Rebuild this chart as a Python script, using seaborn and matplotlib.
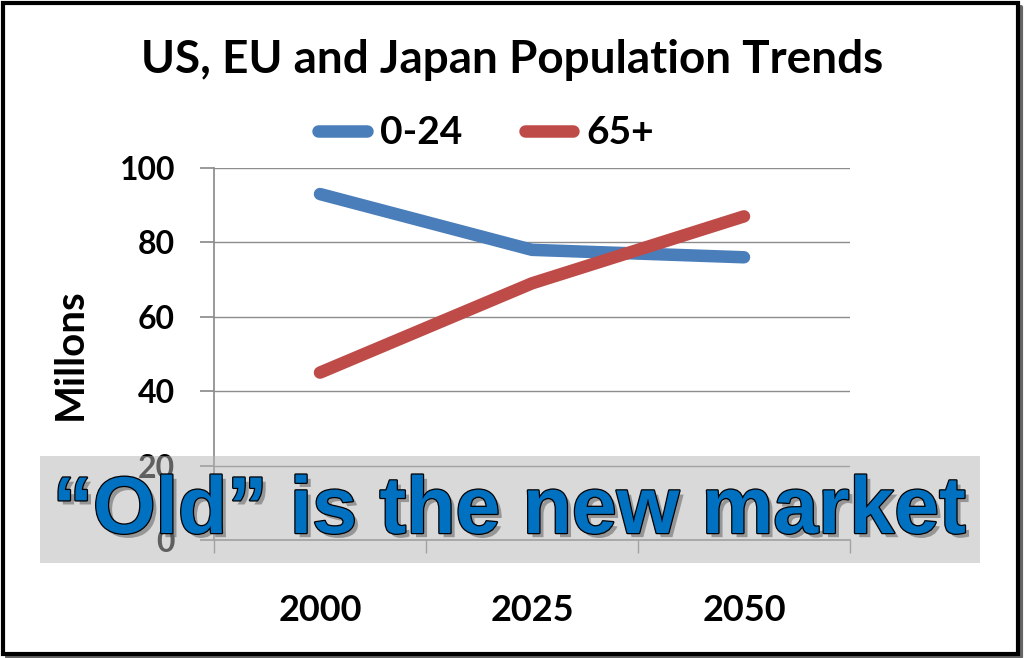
import matplotlib

matplotlib.use("Agg")
import matplotlib.pyplot as plt
import matplotlib.patheffects as pe
from matplotlib.lines import Line2D
from matplotlib.patches import Rectangle
from matplotlib.ticker import FixedLocator
import pandas as pd
import seaborn as sns

# data
years = ["2000", "2025", "2050"]
young = [93, 78, 76]      # 0-24
old = [45, 69, 87]        # 65+
series_names = ["0-24", "65+"]
y_ticks = [0, 20, 40, 60, 80, 100]

title = "US, EU and Japan Population Trends"
ylabel = "Millons"
banner = "\u201cOld\u201d is the new market"

df = pd.DataFrame({
    "year": years * 2,
    "value": young + old,
    "group": [series_names[0]] * len(years) + [series_names[1]] * len(years),
})

sns.set_theme(style="white")
plt.rcParams["font.family"] = ["Lato", "DejaVu Sans"]
plt.rcParams["text.color"] = "black"

fig = plt.figure(figsize=(10.24, 6.58), dpi=100)
ax = fig.add_axes([214 / 1024, 1 - 540 / 658, (850 - 214) / 1024, (540 - 168) / 658])

palette = {"0-24": "#4a7ebb", "65+": "#be4b48"}
sns.lineplot(data=df, x="year", y="value", hue="group", palette=palette,
             linewidth=9, ax=ax, sort=False, solid_capstyle="round")

ax.set_xlim(-0.5, 2.5)
ax.set_ylim(0, 100)
ax.set_yticks(y_ticks)
ax.yaxis.grid(True, color="#8c8c8c", linewidth=1)
ax.set_axisbelow(True)
for s in ["top", "right"]:
    ax.spines[s].set_visible(False)
ax.spines["left"].set_color("#8c8c8c")
ax.spines["bottom"].set_color("#8c8c8c")
ax.tick_params(axis="y", left=True, length=10, color="#8c8c8c", labelsize=23, pad=18,
               labelcolor="black")
ax.tick_params(axis="x", bottom=False, labelsize=26, pad=33, labelcolor="black")
ax.xaxis.set_minor_locator(FixedLocator([-0.5, 0.5, 1.5, 2.5]))
ax.tick_params(axis="x", which="minor", bottom=True, length=9, color="#8c8c8c")
for lab in ax.get_xticklabels() + ax.get_yticklabels():
    lab.set_fontweight("bold")
ax.set_xlabel("")
ax.set_ylabel(ylabel, fontsize=29, fontweight="bold", labelpad=22, color="black")

leg = ax.legend(loc="lower center", bbox_to_anchor=(0.428, 1.0), ncol=2, frameon=False,
                fontsize=28, handlelength=1.25, handletextpad=0.35, columnspacing=1.6,
                borderaxespad=0.05)
for t in leg.get_texts():
    t.set_fontweight("bold")
    t.set_color("black")
for h in leg.get_lines():
    h.set_linewidth(9)
    h.set_solid_capstyle("round")

fig.text(512 / 1024, 1 - 60 / 658, title, ha="center", va="center", fontsize=33,
         fontweight="bold", color="black")

# translucent grey banner across the lower part
fig.patches.append(Rectangle((40 / 1024, 1 - 563 / 658), 940 / 1024, 107 / 658,
                             transform=fig.transFigure, facecolor="#b7b7b7",
                             alpha=0.52, edgecolor="none", zorder=5))
fig.text(509 / 1024, 1 - 512 / 658, banner, ha="center", va="center", fontsize=58,
         fontweight="bold", color="#0070c0", family="Liberation Sans", zorder=6,
         path_effects=[pe.withSimplePatchShadow(offset=(3, -3), shadow_rgbFace="#555555", alpha=0.5),
                       pe.Stroke(linewidth=1.8, foreground="black"), pe.Normal()])

# outer frame with a shadow on the right and bottom
fig.lines.append(Line2D([7 / 1024, 1021 / 1024, 1021 / 1024], [1.5 / 658, 1.5 / 658, 651 / 658],
                        transform=fig.transFigure, color="#666666", linewidth=3, zorder=9))
fig.patches.append(Rectangle((3 / 1024, 4 / 658), 1015 / 1024, 651 / 658,
                             transform=fig.transFigure, facecolor="none",
                             edgecolor="black", linewidth=3, zorder=10))

fig.savefig("out.png", dpi=100)
